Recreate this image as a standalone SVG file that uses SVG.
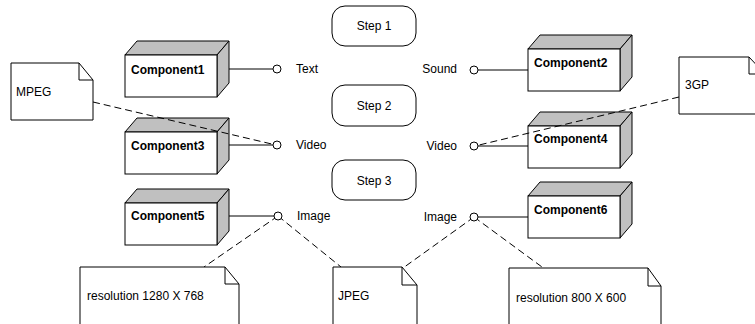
<svg xmlns="http://www.w3.org/2000/svg" width="755" height="324" viewBox="0 0 755 324">
<style>
  .ln{stroke:#000;stroke-width:1;fill:none}
  .dash{stroke:#000;stroke-width:1;fill:none;stroke-dasharray:7,4}
  .front{fill:#fff;stroke:#000;stroke-width:1}
  .side{fill:#c0c0c0;stroke:#000;stroke-width:1;stroke-linejoin:round}
  .note{fill:#fff;stroke:#000;stroke-width:1}
  .step{fill:#fff;stroke:#000;stroke-width:1}
  .pin{fill:#fff;stroke:#000;stroke-width:1}
  text{font-family:"Liberation Sans",Arial,sans-serif;font-size:12px;fill:#000}
  .bold{font-weight:bold}
  .mid{text-anchor:middle}
  .end{text-anchor:end}
</style>
<defs>
  <g id="box">
    <polygon class="side" points="0,0 12,-14 104,-14 92,0"/>
    <polygon class="side" points="92,0 104,-14 104,28 92,42"/>
    <rect class="front" x="0" y="0" width="92" height="42"/>
  </g>
</defs>

<g id="steps">
  <g id="step1"><rect class="step" x="332" y="6" width="84" height="40" rx="13"/><text class="mid" x="374" y="30">Step 1</text></g>
  <g id="step2"><rect class="step" x="332" y="85" width="84" height="41" rx="13"/><text class="mid" x="374" y="110">Step 2</text></g>
  <g id="step3"><rect class="step" x="332" y="160" width="84" height="40" rx="13"/><text class="mid" x="374" y="185">Step 3</text></g>
</g>

<g id="component1"><use href="#box" x="125" y="55"/><text class="bold" x="131" y="74">Component1</text></g>
<g id="component3"><use href="#box" x="125" y="132"/><text class="bold" x="131" y="150">Component3</text></g>
<g id="component5"><use href="#box" x="125" y="203"/><text class="bold" x="131" y="220">Component5</text></g>
<g id="component2"><use href="#box" x="528" y="49"/><text class="bold" x="534" y="67">Component2</text></g>
<g id="component4"><use href="#box" x="528" y="126"/><text class="bold" x="534" y="143">Component4</text></g>
<g id="component6"><use href="#box" x="528" y="196"/><text class="bold" x="534" y="214">Component6</text></g>

<g id="connectors">
  <line class="ln" x1="229" y1="69" x2="273" y2="69"/>
  <line class="ln" x1="229" y1="145" x2="273" y2="145"/>
  <line class="ln" x1="229" y1="216" x2="274" y2="216"/>
  <line class="ln" x1="478" y1="70" x2="528" y2="70"/>
  <line class="ln" x1="478" y1="146" x2="528" y2="146"/>
  <line class="ln" x1="478" y1="217" x2="528" y2="217"/>
  <line class="dash" x1="93" y1="102" x2="276" y2="145"/>
  <line class="dash" x1="679" y1="97" x2="475" y2="146"/>
  <line class="dash" x1="278" y1="216" x2="204" y2="267"/>
  <line class="dash" x1="278" y1="216" x2="341" y2="267"/>
  <line class="dash" x1="474" y1="217" x2="403" y2="268"/>
  <line class="dash" x1="474" y1="217" x2="542" y2="267"/>
  <circle class="pin" cx="277" cy="69" r="4"/>
  <circle class="pin" cx="277" cy="145" r="4"/>
  <circle class="pin" cx="278" cy="216" r="4"/>
  <circle class="pin" cx="474" cy="70" r="4"/>
  <circle class="pin" cx="474" cy="146" r="4"/>
  <circle class="pin" cx="474" cy="217" r="4"/>
</g>

<g id="labels">
  <text x="296" y="73">Text</text>
  <text x="296" y="149">Video</text>
  <text x="297" y="220">Image</text>
  <text class="end" x="457" y="73">Sound</text>
  <text class="end" x="457" y="150">Video</text>
  <text class="end" x="457" y="221">Image</text>
</g>

<g id="note-mpeg">
  <path class="note" d="M11,63 H79 L93,80 V120 H11 Z"/>
  <path class="ln" d="M79,63 V80 H93"/>
  <text x="16" y="96">MPEG</text>
</g>
<g id="note-3gp">
  <path class="note" d="M679,57 H749 L765,74 V114 H679 Z"/>
  <path class="ln" d="M749,57 V74 H765"/>
  <text x="685" y="89">3GP</text>
</g>
<g id="note-1280">
  <path class="note" d="M80,335 V267 H225 L239,284 V335"/>
  <path class="ln" d="M225,267 V284 H239"/>
  <text x="87" y="300">resolution 1280 X 768</text>
</g>
<g id="note-jpeg">
  <path class="note" d="M333,335 V267 H402 L417,285 V335"/>
  <path class="ln" d="M402,267 V285 H417"/>
  <text x="338" y="300">JPEG</text>
</g>
<g id="note-800">
  <path class="note" d="M509,335 V268 H648 L661,286 V335"/>
  <path class="ln" d="M648,268 V286 H661"/>
  <text x="516" y="302">resolution 800 X 600</text>
</g>
</svg>
